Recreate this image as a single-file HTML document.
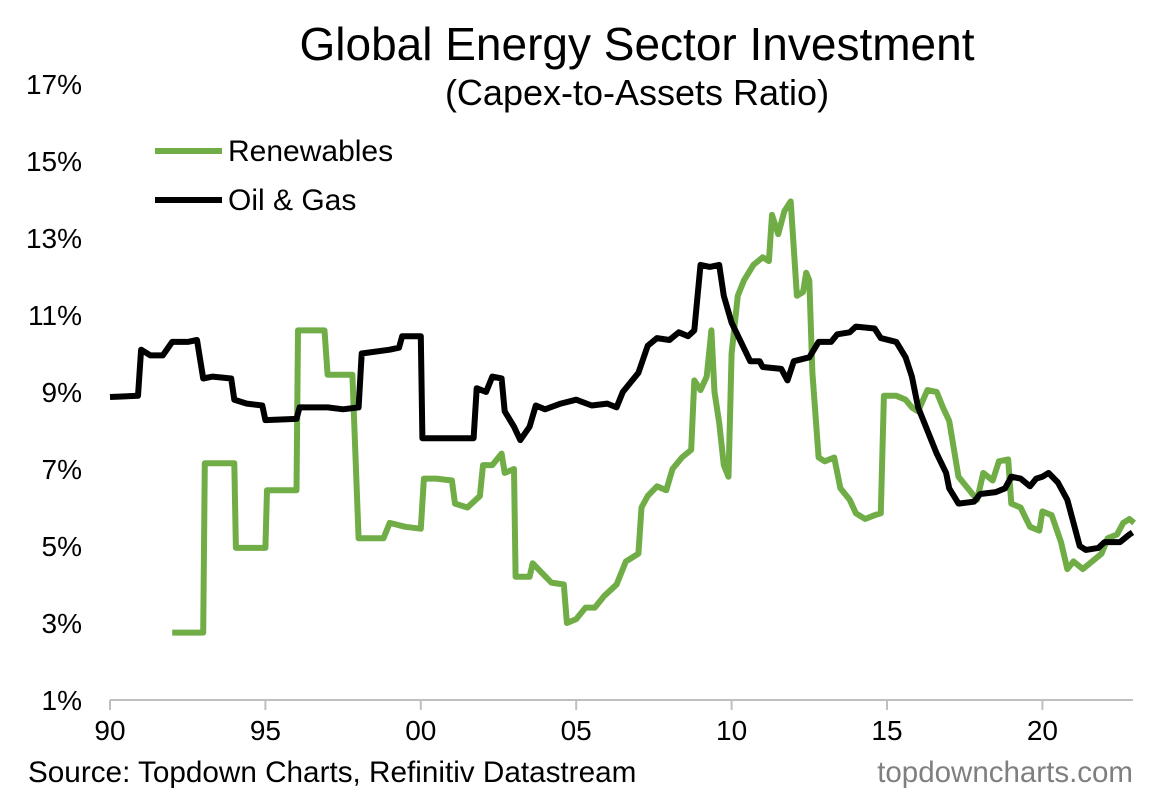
<!DOCTYPE html>
<html><head><meta charset="utf-8"><style>
body{margin:0;background:#fff;font-family:"Liberation Sans",Arial,sans-serif}
svg text{font-family:"Liberation Sans",Arial,sans-serif}
</style></head><body>
<svg id="c" width="1163" height="800">
<text x="637" y="60" font-size="46" text-anchor="middle" fill="#000">Global Energy Sector Investment</text>
<text x="637" y="105" font-size="36" text-anchor="middle" fill="#000">(Capex-to-Assets Ratio)</text>
<g id="yt"></g><g id="xt"></g>
<line x1="110" y1="700" x2="1133" y2="700" stroke="#bfbfbf" stroke-width="2"/>
<g id="series"></g>
<g>
<line x1="155" y1="151" x2="222" y2="151" stroke="#70ad47" stroke-width="6"/>
<text x="228" y="161" font-size="30">Renewables</text>
<line x1="155" y1="200" x2="222" y2="200" stroke="#000" stroke-width="6"/>
<text x="228" y="210" font-size="30">Oil &amp; Gas</text>
</g>
<text x="28" y="782" font-size="29.7">Source: Topdown Charts, Refinitiv Datastream</text>
<text x="1133" y="782" font-size="29.5" text-anchor="end" fill="#7f7f7f">topdowncharts.com</text>
</svg>
<script>
const yTicks=[1,3,5,7,9,11,13,15,17];
const xTickYears=[1990,1995,2000,2005,2010,2015,2020];
const xTickLabels=["90","95","00","05","10","15","20"];
const oilYears=[1990,1990.9,1991,1991.3,1991.7,1992,1992.5,1992.8,1993,1993.3,1993.9,1994,1994.4,1994.9,1995,1996,1996.1,1997,1997.5,1998,1998.1,1999,1999.3,1999.4,2000,2000.05,2001,2001.7,2001.8,2002.1,2002.3,2002.6,2002.7,2003,2003.2,2003.5,2003.7,2004,2004.5,2005,2005.5,2006,2006.3,2006.5,2007,2007.3,2007.6,2008,2008.3,2008.6,2008.8,2009,2009.3,2009.6,2009.75,2010,2010.3,2010.6,2010.9,2011,2011.6,2011.8,2012,2012.5,2012.8,2013.2,2013.4,2013.8,2014,2014.6,2014.8,2015.3,2015.6,2015.8,2016,2016.3,2016.6,2016.9,2017,2017.3,2017.8,2018,2018.5,2018.8,2019,2019.3,2019.6,2019.8,2020,2020.2,2020.5,2020.8,2021,2021.2,2021.4,2021.8,2022,2022.5,2022.8,2022.9];
const oilVals=[8.87,8.9,10.1,9.95,9.95,10.3,10.3,10.35,9.35,9.4,9.35,8.8,8.7,8.65,8.27,8.3,8.6,8.6,8.55,8.6,10.0,10.1,10.15,10.45,10.45,7.8,7.8,7.8,9.1,9.0,9.4,9.35,8.5,8.1,7.75,8.1,8.65,8.55,8.7,8.8,8.65,8.7,8.6,9.0,9.5,10.2,10.4,10.35,10.55,10.45,10.6,12.3,12.25,12.3,11.5,10.8,10.3,9.8,9.8,9.65,9.6,9.3,9.8,9.9,10.3,10.3,10.5,10.55,10.7,10.65,10.4,10.3,9.9,9.4,8.6,8.0,7.4,6.9,6.5,6.1,6.15,6.35,6.4,6.5,6.8,6.75,6.55,6.75,6.8,6.9,6.65,6.2,5.6,5.0,4.9,4.95,5.1,5.1,5.3,5.35];
const renYears=[1992,1993,1993.05,1994,1994.05,1995,1995.05,1996,1996.05,1996.9,1997,1997.8,1998,1998.8,1999,1999.5,2000,2000.1,2000.5,2001,2001.1,2001.5,2001.9,2002,2002.3,2002.6,2002.7,2003,2003.05,2003.5,2003.6,2003.9,2004.2,2004.6,2004.7,2005,2005.3,2005.6,2005.9,2006.3,2006.6,2007,2007.1,2007.3,2007.6,2007.9,2008.1,2008.4,2008.7,2008.8,2009,2009.2,2009.35,2009.45,2009.6,2009.75,2009.9,2010,2010.2,2010.4,2010.7,2011,2011.2,2011.3,2011.5,2011.7,2011.9,2012.1,2012.3,2012.4,2012.5,2012.6,2012.8,2013,2013.3,2013.5,2013.8,2014,2014.3,2014.6,2014.8,2014.9,2015.3,2015.6,2015.8,2016,2016.3,2016.6,2016.8,2017,2017.3,2017.6,2017.9,2018.1,2018.4,2018.6,2018.9,2019,2019.3,2019.6,2019.9,2020,2020.3,2020.6,2020.8,2021,2021.3,2021.6,2021.9,2022.1,2022.4,2022.6,2022.8,2022.95];
const renVals=[2.75,2.75,7.15,7.15,4.95,4.95,6.45,6.45,10.6,10.6,9.45,9.45,5.2,5.2,5.6,5.5,5.45,6.75,6.75,6.7,6.1,6.0,6.3,7.1,7.1,7.4,6.9,7.0,4.2,4.2,4.55,4.3,4.05,4.0,3.0,3.1,3.4,3.4,3.7,4.0,4.6,4.8,6.0,6.3,6.55,6.45,7.0,7.3,7.5,9.3,9.05,9.4,10.6,9.0,8.2,7.1,6.8,10.0,11.5,11.9,12.3,12.5,12.4,13.6,13.1,13.7,13.95,11.5,11.6,12.1,11.9,9.5,7.3,7.2,7.3,6.5,6.2,5.85,5.7,5.8,5.85,8.9,8.9,8.8,8.6,8.5,9.05,9.0,8.6,8.25,6.8,6.5,6.2,6.9,6.7,7.2,7.25,6.1,6.0,5.5,5.4,5.9,5.8,5.1,4.4,4.6,4.4,4.6,4.8,5.2,5.3,5.6,5.7,5.6];
const NS="http://www.w3.org/2000/svg";
const X=y=>110+(y-1990)*31.08;
const Y=v=>700-(v-1)*38.5;
const yt=document.getElementById('yt');
yTicks.forEach(v=>{const t=document.createElementNS(NS,'text');
t.setAttribute('x',82);t.setAttribute('y',Y(v)+10);t.setAttribute('font-size','28');t.setAttribute('text-anchor','end');
t.textContent=v+'%';


yt.appendChild(t);});
const xt=document.getElementById('xt');
xTickYears.forEach((yr,i)=>{const l=document.createElementNS(NS,'line');
l.setAttribute('x1',X(yr));l.setAttribute('x2',X(yr));l.setAttribute('y1',700);l.setAttribute('y2',710);l.setAttribute('stroke','#bfbfbf');l.setAttribute('stroke-width','2');


xt.appendChild(l);
const t=document.createElementNS(NS,'text');
t.setAttribute('x',X(yr));t.setAttribute('y',740);t.setAttribute('font-size','28');t.setAttribute('text-anchor','middle');
t.textContent=xTickLabels[i];


xt.appendChild(t);});
const g=document.getElementById('series');
function line(xs,vs,color,name){const p=document.createElementNS(NS,'polyline');
p.setAttribute('points',xs.map((x,i)=>X(x).toFixed(1)+','+Y(vs[i]).toFixed(1)).join(' '));
p.setAttribute('fill','none');p.setAttribute('stroke',color);p.setAttribute('stroke-width','6');p.setAttribute('stroke-linejoin','round');


g.appendChild(p);}
line(renYears,renVals,'#70ad47','renewables-line');
line(oilYears,oilVals,'#000','oil-gas-line');
</script>
</body></html>
